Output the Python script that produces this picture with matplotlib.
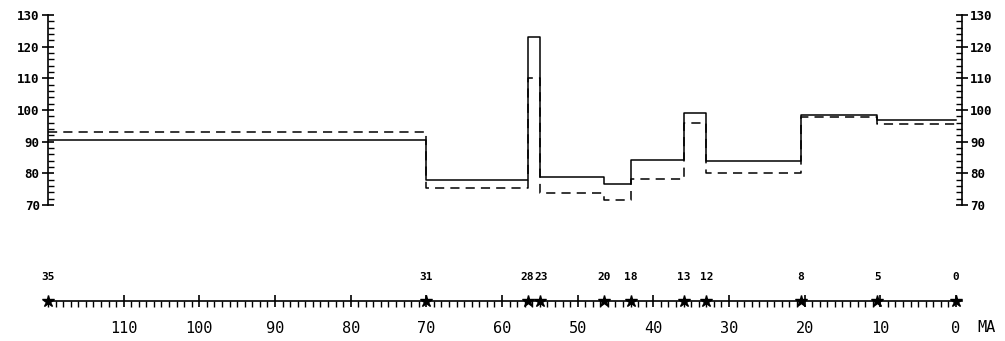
import numpy as np
import matplotlib.pyplot as plt
from matplotlib.ticker import MultipleLocator

# interval boundaries (MA) and the two curves on each interval
edges = [120, 70, 56.5, 55, 46.5, 43, 36, 33, 20.5, 10.4, 0]
solid = [90.5, 77.8, 123.0, 78.9, 76.7, 84.2, 99.2, 83.8, 98.4, 96.9]
dashed = [93.2, 75.5, 110.0, 73.7, 71.6, 78.2, 96.0, 80.0, 97.7, 95.6]

# magnetic anomaly markers on the time scale
anom_age = [120, 70, 56.5, 55, 46.5, 43, 36, 33, 20.5, 10.4, 0]
anom_lbl = ["35", "31", "28", "23", "20", "18", "13", "12", "8", "5", "0"]

W, H = 1005, 341
fig = plt.figure(figsize=(W / 100, H / 100), dpi=100)
font = "DejaVu Sans Mono"
PT = 72 / 100  # points per pixel

x0, x1 = 48, 962
xlim = (120, -0.8)

# top panel
ax = fig.add_axes([x0 / W, (H - 205) / H, (x1 - x0) / W, 190 / H])
ax.step(edges, solid + [solid[-1]], where="post", color="black", lw=1.1)
ax.step(edges, dashed + [dashed[-1]], where="post", color="black", lw=1.1,
        linestyle=(0, (6, 4)))
ax.set_xlim(xlim)
ax.set_ylim(70, 130)
ax.set_facecolor("none")
for s in ["top", "bottom"]:
    ax.spines[s].set_visible(False)
for s in ["left", "right"]:
    ax.spines[s].set_linewidth(1.2)
ax.set_xticks([])
ax.yaxis.set_major_locator(MultipleLocator(10))
ax.yaxis.set_minor_locator(MultipleLocator(2))
ax.tick_params(axis="y", which="both", left=True, right=True,
               labelleft=True, labelright=True, direction="in")
ax.tick_params(axis="y", which="major", direction="inout", length=8, width=1.2,
               labelsize=9, pad=2)
ax.tick_params(axis="y", which="minor", length=4, width=1)
for t in ax.yaxis.get_major_ticks():
    for lb in (t.label1, t.label2):
        lb.set_fontfamily(font)
        lb.set_fontweight("bold")

# bottom time scale
ax2 = fig.add_axes([x0 / W, (H - 301) / H, (x1 - x0) / W, 0.01])
ax2.set_xlim(xlim)
ax2.set_ylim(0, 1)
ax2.set_facecolor("none")
for s in ["top", "left", "right"]:
    ax2.spines[s].set_visible(False)
ax2.spines["bottom"].set_linewidth(1.2)
ax2.set_yticks([])
ax2.set_xticks(np.arange(110, -1, -10))
ax2.set_xticklabels([str(v) for v in range(110, -1, -10)])
ax2.xaxis.set_minor_locator(MultipleLocator(1))
ax2.tick_params(axis="x", which="major", direction="inout", length=9, width=1.2,
                labelsize=11, pad=10)
ax2.tick_params(axis="x", which="minor", direction="out", length=4, width=1)
for lb in ax2.get_xticklabels():
    lb.set_fontfamily(font)
ax2.plot(anom_age, [0] * len(anom_age), linestyle="none", marker="*",
         markersize=9, color="black", clip_on=False)

# 28 and 23 sit almost on top of each other: butt the labels together
align = {"28": ("right", 5.5), "23": ("left", -5.5)}
for a, l in zip(anom_age, anom_lbl):
    ha, dx = align.get(l, ("center", 0))
    ax2.annotate(l, (a, 0), xytext=(dx * PT, 24 * PT), textcoords="offset points",
                 ha=ha, va="center", fontsize=8, fontfamily=font,
                 fontweight="bold")
ax2.annotate("MA", (0, 0), xytext=(31 * PT, -26 * PT), textcoords="offset points",
             ha="center", va="center", fontsize=11, fontfamily=font)

fig.savefig("out.png", dpi=100)
